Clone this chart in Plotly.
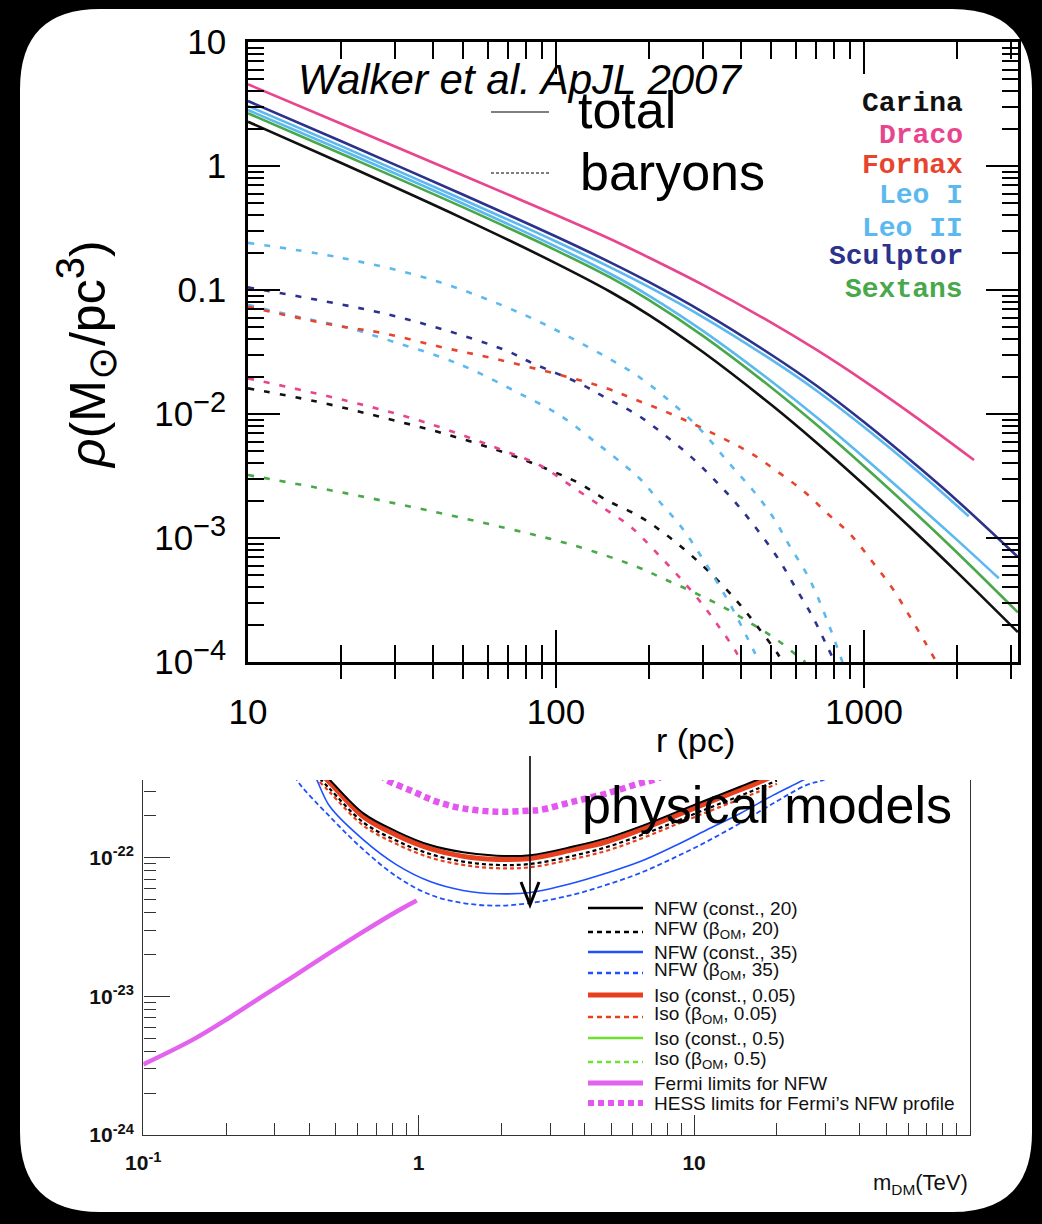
import plotly.graph_objects as go

W, H = 1042, 1224


def px(x):
    return x / W


def py(y):
    return 1 - y / H


# ---------------- top panel: Walker et al. 2007 density profiles ----------------
r_grid = [10, 20, 50, 100, 150, 200, 300, 500, 700, 1000, 1500, 2000, 3160]

carina_tot = [2.275, 1.062, 0.3767, 0.164, 0.0968, 0.0631, 0.0316, 0.01186, 0.00589, 0.002685,
              0.001057, 5.33e-4, 1.74e-4]
sextans_tot = [2.66, 1.262, 0.4634, 0.2089, 0.1262, 0.0832, 0.0427, 0.01637, 0.00822, 0.00379,
               0.00151, 7.67e-4, 2.51e-4]
r_leo2_tot = [10, 20, 50, 100, 150, 200, 300, 500, 700, 1000, 1500, 2000, 2740]
leo2_tot = [2.83, 1.352, 0.4966, 0.2239, 0.1352, 0.0902, 0.0468, 0.01837, 0.00944, 0.004457,
            0.001837, 9.7e-4, 4.73e-4]
r_leo1_tot = [10, 20, 50, 100, 150, 200, 300, 500, 700, 1000, 1500, 2188]
leo1_tot = [3.048, 1.452, 0.5346, 0.246, 0.1524, 0.1059, 0.06053, 0.02742, 0.01549, 0.007852,
            0.00342, 0.001496]
sculptor_tot = [3.342, 1.592, 0.5861, 0.2698, 0.1671, 0.1161, 0.06637, 0.03006, 0.01698,
                0.00861, 0.00375, 0.002018, 7.03e-4]
r_draco_tot = [10, 20, 50, 100, 150, 200, 300, 500, 700, 1000, 1500, 2276]
draco_tot = [4.56, 2.20, 0.839, 0.403, 0.258, 0.183, 0.110, 0.0546, 0.033, 0.0185, 0.00914,
             0.00425]

r_leo1_bar = [10, 20, 40, 79, 126, 165, 182, 222, 292, 365, 435, 505, 571, 664, 752, 851]
leo1_bar = [0.24, 0.182, 0.120, 0.063, 0.0351, 0.0241, 0.0207, 0.0142, 0.00767, 0.0040,
            0.00244, 0.00149, 8.8e-4, 4.7e-4, 2.3e-4, 1.0e-4]
r_leo2_bar = [10, 14.4, 21.4, 29.6, 41.9, 53.7, 74.3, 102.6, 138, 169, 187, 217, 255, 292,
              330, 374, 419, 457]
leo2_bar = [0.0759, 0.061, 0.0491, 0.0383, 0.029, 0.0226, 0.0151, 0.00982, 0.00562, 0.00376,
            0.00302, 0.00196, 0.00123, 7.5e-4, 4.6e-4, 2.7e-4, 1.55e-4, 1.0e-4]
r_sculptor_bar = [10, 25.5, 41.9, 69, 84.1, 119, 149, 184, 225, 274, 327, 384, 451, 530, 601,
                  681, 760, 804]
sculptor_bar = [0.105, 0.0676, 0.049, 0.0324, 0.0256, 0.0177, 0.013, 0.00982, 0.00678, 0.00453,
                0.00294, 0.00191, 0.00116, 6.65e-4, 3.93e-4, 2.32e-4, 1.33e-4, 1.0e-4]
r_fornax_bar = [10, 18.9, 27.5, 41.9, 62.4, 102.6, 146, 182, 228, 284, 348, 430, 524, 640, 760,
                906, 1064, 1236, 1400, 1585, 1718]
fornax_bar = [0.0733, 0.0522, 0.0448, 0.0349, 0.0281, 0.0207, 0.0161, 0.013, 0.0104, 0.00815,
              0.00637, 0.00482, 0.00343, 0.00236, 0.00158, 0.00106, 6.44e-4, 3.93e-4, 2.39e-4,
              1.42e-4, 1.0e-4]
r_draco_bar = [10, 20.9, 37.9, 69, 88.3, 113, 146, 175, 208, 245, 288, 335, 384, 398]
draco_bar = [0.0194, 0.0128, 0.00851, 0.00497, 0.00388, 0.00259, 0.00168, 0.00123, 8.0e-4,
             5.19e-4, 3.27e-4, 1.99e-4, 1.21e-4, 1.0e-4]
r_carina_bar = [10, 16.7, 26.8, 43, 69, 95.3, 119, 146, 187, 228, 274, 330, 388, 451, 524, 543]
carina_bar = [0.0161, 0.0126, 0.0095, 0.00698, 0.00482, 0.00353, 0.00276, 0.00202, 0.00149,
              0.00106, 7.3e-4, 4.73e-4, 3.07e-4, 1.93e-4, 1.17e-4, 1.0e-4]
r_sextans_bar = [10, 20.9, 37.9, 69, 113, 183, 222, 277, 348, 430, 524, 631, 646]
sextans_bar = [0.00322, 0.00229, 0.00168, 0.0012, 8.79e-4, 5.87e-4, 4.73e-4, 3.69e-4, 2.79e-4,
               2.05e-4, 1.5e-4, 1.04e-4, 1.0e-4]

galaxy_names = ["Carina", "Draco", "Fornax", "Leo I", "Leo II", "Sculptor", "Sextans"]
galaxy_colors = ["#111111", "#e8458e", "#e8432e", "#5cb9ef", "#5cb9ef", "#2c318c", "#48a84a"]
gc = dict(zip(galaxy_names, galaxy_colors))

SUP = "<sup><span style='font-size:29px'>{}</span></sup>"
top_x_ticks = [10, 100, 1000]
top_x_text = ["10", "100", "1000"]
top_y_ticks = [1e-4, 1e-3, 1e-2, 0.1, 1, 10]
top_y_text = ["10" + SUP.format("\u22124"), "10" + SUP.format("\u22123"),
              "10" + SUP.format("\u22122"), "0.1", "1", "10"]

# ---------------- bottom panel: cross-section limits ----------------
m_fermi = [0.1, 0.152, 0.2065, 0.273, 0.3606, 0.4764, 0.6295, 0.8318, 0.984]
sv_fermi = [3.23e-24, 4.89e-24, 7.06e-24, 1.01e-23, 1.44e-23, 2.06e-23, 2.92e-23, 4.08e-23, 4.9e-23]

m_hess = [0.724, 0.766, 0.955, 1.16, 1.45, 1.92, 2.54, 2.75, 3.64, 4.82, 6.37, 7.11, 7.94]
sv_hess = [3.98e-22, 3.62e-22, 2.99e-22, 2.53e-22, 2.26e-22, 2.14e-22, 2.18e-22, 2.2e-22,
           2.53e-22, 2.9e-22, 3.43e-22, 3.62e-22, 3.98e-22]

m_nfw20 = [0.437, 0.476, 0.63, 0.832, 1.1, 1.45, 1.92, 2.54, 3.64, 4.82, 6.37, 8.41, 11.1, 14.7, 16.9, 20]
sv_nfw20_const = [4.31e-22, 3.62e-22, 2.08e-22, 1.54e-22, 1.23e-22, 1.09e-22, 1.03e-22, 1.04e-22,
                  1.2e-22, 1.38e-22, 1.67e-22, 2.08e-22, 2.6e-22, 3.24e-22, 3.62e-22, 4.17e-22]
sv_iso005_const = [4.07e-22, 3.47e-22, 1.97e-22, 1.45e-22, 1.16e-22, 1.02e-22, 9.7e-23, 9.86e-23,
                   1.14e-22, 1.3e-22, 1.58e-22, 1.97e-22, 2.47e-22, 3.08e-22, 3.44e-22, 3.98e-22]
sv_nfw20_bom = [3.72e-22, 3.12e-22, 1.79e-22, 1.32e-22, 1.06e-22, 9.35e-23, 8.85e-23, 8.99e-23,
                1.03e-22, 1.19e-22, 1.44e-22, 1.79e-22, 2.24e-22, 2.79e-22, 3.12e-22, 3.59e-22]
sv_iso005_bom = [3.51e-22, 2.95e-22, 1.7e-22, 1.25e-22, 1.0e-22, 8.85e-23, 8.38e-23, 8.51e-23,
                 9.77e-23, 1.12e-22, 1.36e-22, 1.7e-22, 2.12e-22, 2.64e-22, 2.95e-22, 3.4e-22]

m_nfw35_const = [0.407, 0.427, 0.476, 0.63, 0.832, 1.1, 1.45, 1.92, 2.54, 3.64, 4.82, 6.37, 8.41,
                 11.1, 14.7, 19.4, 24.9, 28.2]
sv_nfw35_const = [4.37e-22, 3.62e-22, 2.33e-22, 1.34e-22, 8.85e-23, 6.71e-23, 5.79e-23, 5.48e-23,
                  5.6e-23, 6.55e-23, 7.73e-23, 9.35e-23, 1.2e-22, 1.58e-22, 2.08e-22, 2.82e-22,
                  3.62e-22, 4.17e-22]
m_nfw35_bom = [0.347, 0.361, 0.476, 0.63, 0.832, 1.1, 1.45, 1.92, 2.54, 3.64, 4.82, 6.37, 8.41,
               11.1, 14.7, 19.4, 25.6, 29.4, 33.1]
sv_nfw35_bom = [4.37e-22, 3.62e-22, 1.97e-22, 1.14e-22, 7.29e-23, 5.4e-23, 4.7e-23, 4.5e-23,
                4.7e-23, 5.4e-23, 6.37e-23, 7.73e-23, 9.91e-23, 1.3e-22, 1.77e-22, 2.46e-22,
                3.33e-22, 3.62e-22, 4.07e-22]

bot_x_ticks = [0.1, 1, 10]
bot_x_text = ["<b>10<sup>-1</sup></b>", "<b>1</b>", "<b>10</b>"]
bot_y_ticks = [1e-24, 1e-23, 1e-22]
bot_y_text = ["<b>10<sup>-24</sup></b>", "<b>10<sup>-23</sup></b>", "<b>10<sup>-22</sup></b>"]

legend_labels = ["NFW (const., 20)", "NFW (\u03b2<sub>OM</sub>, 20)", "NFW (const., 35)",
                 "NFW (\u03b2<sub>OM</sub>, 35)", "Iso (const., 0.05)", "Iso (\u03b2<sub>OM</sub>, 0.05)",
                 "Iso (const., 0.5)", "Iso (\u03b2<sub>OM</sub>, 0.5)", "Fermi limits for NFW",
                 "HESS limits for Fermi\u2019s NFW profile"]

C_BLACK = "#000000"
C_BLUE = "#1f50ff"
C_RED = "#e8401f"
C_GREEN = "#6ee030"
C_FERMI = "#e463ee"
C_HESS = "#e356f0"

fig = go.Figure()

DASH_TOP = "6px,10px"


def top_line(x, y, color, dashed=False):
    fig.add_trace(go.Scatter(
        x=x, y=y, mode="lines", xaxis="x", yaxis="y", showlegend=False,
        line=dict(color=color, width=2.6, dash=DASH_TOP if dashed else "solid", shape="spline",
                  smoothing=1.0),
        hoverinfo="skip"))


# baryons (dashed)
top_line(r_sextans_bar, sextans_bar, gc["Sextans"], True)
top_line(r_carina_bar, carina_bar, gc["Carina"], True)
top_line(r_draco_bar, draco_bar, gc["Draco"], True)
top_line(r_leo2_bar, leo2_bar, gc["Leo II"], True)
top_line(r_fornax_bar, fornax_bar, gc["Fornax"], True)
top_line(r_sculptor_bar, sculptor_bar, gc["Sculptor"], True)
top_line(r_leo1_bar, leo1_bar, gc["Leo I"], True)
# totals (solid)
top_line(r_grid, carina_tot, gc["Carina"])
top_line(r_grid, sextans_tot, gc["Sextans"])
top_line(r_leo2_tot, leo2_tot, gc["Leo II"])
top_line(r_leo1_tot, leo1_tot, gc["Leo I"])
top_line(r_grid, sculptor_tot, gc["Sculptor"])
top_line(r_draco_tot, draco_tot, gc["Draco"])

# dummy trace for the overlay axis that draws the outer half of the bottom ticks
fig.add_trace(go.Scatter(x=[None], y=[None], xaxis="x3", yaxis="y", showlegend=False))


def bot_line(x, y, color, width, dash="solid"):
    fig.add_trace(go.Scatter(
        x=x, y=y, mode="lines", xaxis="x2", yaxis="y2", showlegend=False,
        line=dict(color=color, width=width, dash=dash, shape="spline"), hoverinfo="skip"))


bot_line(m_hess, sv_hess, C_HESS, 6.5, "6px,4px")
bot_line(m_fermi, sv_fermi, C_FERMI, 4.5)
bot_line(m_nfw35_bom, sv_nfw35_bom, C_BLUE, 1.8, "5px,3px")
bot_line(m_nfw35_const, sv_nfw35_const, C_BLUE, 1.6)
bot_line(m_nfw20, sv_iso005_bom, C_RED, 2.2, "4px,3px")
bot_line(m_nfw20, sv_nfw20_bom, C_BLACK, 2.2, "4px,3px")
bot_line(m_nfw20, sv_iso005_const, C_RED, 5)
bot_line(m_nfw20, sv_nfw20_const, C_BLACK, 2)


# ---------------- axes ----------------
def minor_vals(decades):
    vals = []
    for d in decades:
        for k in range(2, 10):
            vals.append(k * d)
    return vals


top_minor_x = [v for v in minor_vals([10, 100, 1000]) if v <= 3160]
top_minor_y = minor_vals([1e-4, 1e-3, 1e-2, 0.1, 1])
bot_minor_x = minor_vals([0.1, 1, 10])
bot_minor_y = [v for v in minor_vals([1e-24, 1e-23, 1e-22]) if v <= 3.6e-22]

TOPFONT = dict(family="Liberation Sans", size=35, color="#000000")
BOTFONT = dict(family="Liberation Sans", size=21, color="#111")

fig.update_layout(
    width=W, height=H,
    margin=dict(l=0, r=0, t=0, b=0, autoexpand=False),
    paper_bgcolor="#000000",
    plot_bgcolor="#ffffff",
    showlegend=False,
    xaxis=dict(
        domain=[px(248), px(1018)], anchor="y", type="log", range=[1, 3.5],
        showline=True, linecolor="#000", linewidth=2.5, mirror="ticks",
        ticks="inside", ticklen=32, tickwidth=2, tickcolor="#000",
        tickmode="array", tickvals=top_x_ticks, ticktext=top_x_text,
        tickfont=TOPFONT, ticklabelstandoff=17,
        minor=dict(tickmode="array", tickvals=top_minor_x, ticks="inside", ticklen=17,
                   tickwidth=2, tickcolor="#000", showgrid=False),
        showgrid=False, zeroline=False,
    ),
    xaxis3=dict(
        overlaying="x", anchor="y", side="bottom", type="log", range=[1, 3.5],
        showline=False, ticks="outside", ticklen=25, tickwidth=2, tickcolor="#000",
        tickmode="array", tickvals=[100, 1000], showticklabels=False,
        minor=dict(tickmode="array", tickvals=top_minor_x, ticks="outside", ticklen=16,
                   tickwidth=2, tickcolor="#000", showgrid=False),
        showgrid=False, zeroline=False,
    ),
    yaxis=dict(
        domain=[py(662), py(42)], anchor="x", type="log", range=[-4, 1],
        showline=True, linecolor="#000", linewidth=2.5, mirror="ticks",
        ticks="inside", ticklen=32, tickwidth=2, tickcolor="#000",
        tickmode="array", tickvals=top_y_ticks, ticktext=top_y_text,
        tickfont=TOPFONT, ticklabelstandoff=12,
        minor=dict(tickmode="array", tickvals=top_minor_y, ticks="inside", ticklen=16,
                   tickwidth=2, tickcolor="#000", showgrid=False),
        showgrid=False, zeroline=False,
    ),
    xaxis2=dict(
        domain=[px(143.3), px(970)], anchor="y2", type="log", range=[-1, 2.002],
        showline=True, linecolor="#333", linewidth=1.4, mirror=False,
        ticks="inside", ticklen=20, tickwidth=1.3, tickcolor="#333",
        tickmode="array", tickvals=bot_x_ticks, ticktext=bot_x_text,
        tickfont=BOTFONT, ticklabelstandoff=9,
        minor=dict(tickmode="array", tickvals=bot_minor_x, ticks="inside", ticklen=12,
                   tickwidth=1.3, tickcolor="#333", showgrid=False),
        showgrid=False, zeroline=False,
    ),
    yaxis2=dict(
        domain=[py(1135), py(780)], anchor="x2", type="log", range=[-24, -21.441],
        showline=True, linecolor="#333", linewidth=1.4, mirror=True,
        ticks="inside", ticklen=26, tickwidth=1.3, tickcolor="#333",
        tickmode="array", tickvals=bot_y_ticks, ticktext=bot_y_text,
        tickfont=BOTFONT, ticklabelstandoff=4,
        minor=dict(tickmode="array", tickvals=bot_minor_y, ticks="inside", ticklen=12,
                   tickwidth=1.3, tickcolor="#333", showgrid=False),
        showgrid=False, zeroline=False,
    ),
)

# ---------------- background card ----------------
x0, x1, y0, y1, rad = 20, 1032, 9, 1212, 80
card = (f"M {px(x0 + rad)} {py(y0)} L {px(x1 - rad)} {py(y0)} "
        f"Q {px(x1)} {py(y0)} {px(x1)} {py(y0 + rad)} L {px(x1)} {py(y1 - rad)} "
        f"Q {px(x1)} {py(y1)} {px(x1 - rad)} {py(y1)} L {px(x0 + rad)} {py(y1)} "
        f"Q {px(x0)} {py(y1)} {px(x0)} {py(y1 - rad)} L {px(x0)} {py(y0 + rad)} "
        f"Q {px(x0)} {py(y0)} {px(x0 + rad)} {py(y0)} Z")
shapes = [dict(type="path", xref="paper", yref="paper", path=card,
               fillcolor="#ffffff", line=dict(width=0), layer="below")]

# legend samples (top panel)
shapes.append(dict(type="line", xref="paper", yref="paper", x0=px(491), x1=px(549),
                   y0=py(112), y1=py(112), line=dict(color="#000", width=1.2)))
shapes.append(dict(type="line", xref="paper", yref="paper", x0=px(491), x1=px(549),
                   y0=py(173), y1=py(173), line=dict(color="#000", width=1.2, dash="3px,2px")))

# legend samples (bottom panel)
leg_y = [908, 932, 952, 973, 995, 1017, 1038, 1062, 1083, 1103]
leg_style = [(C_BLACK, 2.6, "solid"), (C_BLACK, 2.6, "5px,4px"), (C_BLUE, 2.6, "solid"),
             (C_BLUE, 2.6, "5px,4px"), (C_RED, 5, "solid"), (C_RED, 2.6, "5px,4px"),
             (C_GREEN, 2.6, "solid"), (C_GREEN, 2.6, "5px,4px"), (C_FERMI, 5, "solid"),
             (C_HESS, 6, "6px,4px")]
for yy, (c, w, d) in zip(leg_y, leg_style):
    shapes.append(dict(type="line", xref="paper", yref="paper", x0=px(588), x1=px(643),
                       y0=py(yy), y1=py(yy), line=dict(color=c, width=w, dash=d)))

# arrow
shapes.append(dict(type="line", xref="paper", yref="paper", x0=px(530), x1=px(530),
                   y0=py(756), y1=py(904), line=dict(color="#000", width=1.6)))
shapes.append(dict(type="path", xref="paper", yref="paper",
                   path=f"M {px(521)} {py(882)} L {px(530)} {py(905)} L {px(539)} {py(882)}",
                   line=dict(color="#000", width=3)))
fig.update_layout(shapes=shapes)

# ---------------- annotations ----------------
ann = []


def text(x, y, s, size, xanchor="left", color="#000", family="Liberation Sans", angle=0):
    ann.append(dict(x=px(x), y=py(y), xref="paper", yref="paper", text=s, showarrow=False,
                    xanchor=xanchor, yanchor="middle", textangle=angle,
                    font=dict(family=family, size=size, color=color)))


text(296, 80, "<i>Walker et al. ApJL 2007</i>", 42)
text(576, 110, "total", 52)
text(578, 172, "baryons", 52)
text(580, 805, "physical models", 52)

name_y = [103, 135, 166, 196, 228, 256, 289]
for nm, yy in zip(galaxy_names, name_y):
    text(965, yy, f"<b>{nm}</b>", 28, xanchor="right", color=gc[nm], family="Liberation Mono")

text(86, 355, "<i>\u03c1</i>(M<sub><span style='font-size:40px'>\u2299</span></sub>/pc"
     "<sup><span style='font-size:40px'>3</span></sup>)", 50, xanchor="center", angle=-90)
text(695, 740, "r (pc)", 34, xanchor="center")

for lab, yy in zip(legend_labels, leg_y):
    dy = -2 if "sub" in lab else 0
    text(652, yy + dy, lab, 19, color="#111")

ann.append(dict(x=px(970), y=py(1184), xref="paper", yref="paper",
                text="m<sub>DM</sub>(TeV)", showarrow=False, xanchor="right", yanchor="middle",
                font=dict(family="Liberation Sans", size=22, color="#111")))

fig.update_layout(annotations=ann)

fig.write_html("out.html")
